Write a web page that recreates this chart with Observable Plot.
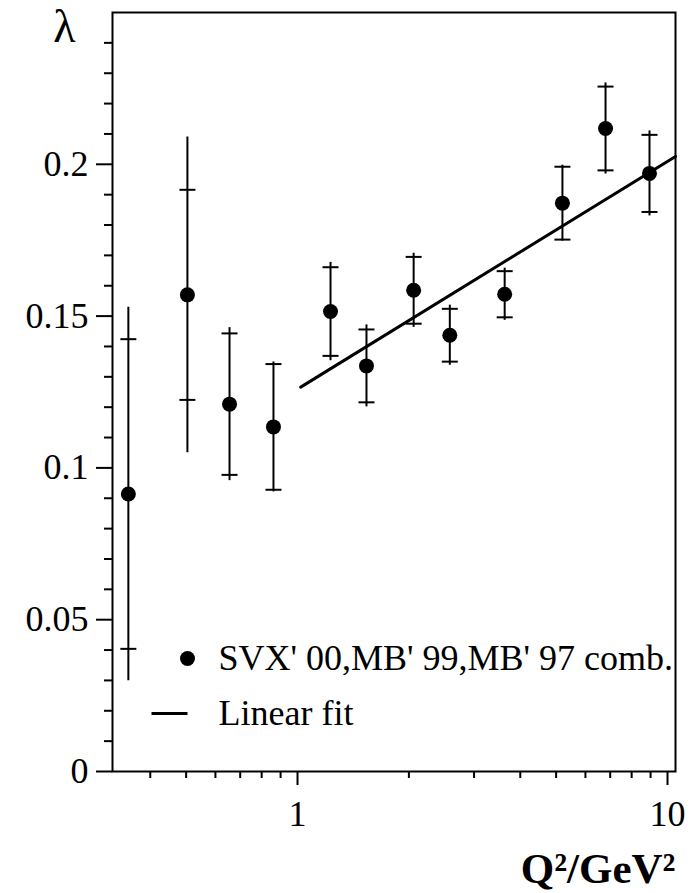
<!DOCTYPE html>
<html>
<head>
<meta charset="utf-8">
<script src="https://cdn.jsdelivr.net/npm/d3@7"></script>
<script src="https://cdn.jsdelivr.net/npm/@observablehq/plot@0.6"></script>
<style>
  html, body { margin: 0; padding: 0; background: white; }
  svg { display: block; }
</style>
</head>
<body>
<div id="chart"></div>
<script>
// ---- data ----
const q2      = [0.349, 0.504, 0.655, 0.861, 1.228, 1.536, 2.06, 2.58, 3.63, 5.2, 6.8, 8.94];
const lambda  = [0.0914, 0.157, 0.121, 0.1135, 0.1515, 0.1336, 0.1585, 0.1437, 0.1572, 0.1872, 0.2118, 0.197];
const statErr = [0.051, 0.0346, 0.0233, 0.0207, 0.0146, 0.012, 0.011, 0.0087, 0.0076, 0.012, 0.0138, 0.0127];
const totErr  = [0.0615, 0.052, 0.0252, 0.0214, 0.0162, 0.0135, 0.0122, 0.0099, 0.0086, 0.0125, 0.015, 0.014];

const fitQ2     = [1.02, 10.51];
const fitLambda = [0.1266, 0.2026];

const xMajorTicks = [1, 10];
const xMinorTicks = [0.4, 0.5, 0.6, 0.7, 0.8, 0.9, 2, 3, 4, 5, 6, 7, 8, 9];
const yMajorTicks = [0, 0.05, 0.1, 0.15, 0.2];
const yMinorTicks = [0.01, 0.02, 0.03, 0.04, 0.06, 0.07, 0.08, 0.09, 0.11, 0.12, 0.13, 0.14,
                     0.16, 0.17, 0.18, 0.19, 0.21, 0.22, 0.23, 0.24];

const yLabel = "λ";
const xLabel = "Q²/GeV²";
const legendData = "SVX' 00,MB' 99,MB' 97 comb.";
const legendFit = "Linear fit";

// ---- tables ----
const points = q2.map((q, i) => ({q2: q, lambda: lambda[i], stat: statErr[i], tot: totErr[i]}));
const fit = fitQ2.map((q, i) => ({q2: q, lambda: fitLambda[i]}));

// horizontal line symbol (half-width = r)
const hline = {
  draw(context, size) {
    const w = Math.sqrt(size / Math.PI);
    context.moveTo(-w, 0);
    context.lineTo(w, 0);
  }
};

const FONT = "Liberation Serif, Times New Roman, serif";

const chart = Plot.plot({
  width: 700,
  height: 893,
  marginLeft: 112,
  marginRight: 25,
  marginTop: 12,
  marginBottom: 122,
  x: {type: "log", domain: [0.3162, 10.51]},
  y: {domain: [0, 0.25]},
  style: {fontFamily: FONT, fontSize: "36px", color: "black", background: "white"},
  marks: [
    // axes
    Plot.axisY(yMajorTicks, {tickSize: 16, tickPadding: 8, tickFormat: d => String(d), label: null,
      strokeWidth: 2, fontSize: 36, fontFamily: FONT}),
    Plot.axisY(yMinorTicks, {tickSize: 8, tickFormat: () => "", label: null, strokeWidth: 2}),
    Plot.axisX(xMajorTicks, {tickSize: 14, tickPadding: 15, tickFormat: d => String(d), label: null,
      strokeWidth: 2, fontSize: 36, fontFamily: FONT}),
    Plot.axisX(xMinorTicks, {tickSize: 7, tickFormat: () => "", label: null, strokeWidth: 2}),
    Plot.frame({stroke: "black", strokeWidth: 2}),

    // fit
    Plot.line(fit, {x: "q2", y: "lambda", stroke: "black", strokeWidth: 3}),

    // error bars
    Plot.ruleX(points, {x: "q2", y1: d => d.lambda - d.tot, y2: d => d.lambda + d.tot, stroke: "black", strokeWidth: 2}),
    Plot.dot(points, {x: "q2", y: d => d.lambda + d.stat, symbol: hline, r: 8, stroke: "black", strokeWidth: 2, fill: "none"}),
    Plot.dot(points, {x: "q2", y: d => d.lambda - d.stat, symbol: hline, r: 8, stroke: "black", strokeWidth: 2, fill: "none"}),
    Plot.dot(points, {x: "q2", y: "lambda", r: 7.5, fill: "black", stroke: "none"}),

    // legend
    Plot.dot([legendData], {frameAnchor: "bottom-left", dx: 75, dy: -113, r: 7.5, fill: "black", stroke: "none"}),
    Plot.text([legendData], {frameAnchor: "bottom-left", dx: 106, dy: -113, text: d => d, textAnchor: "start",
      lineAnchor: "middle", fontSize: 36, fontFamily: FONT, fill: "black"}),
    Plot.dot([legendFit], {frameAnchor: "bottom-left", dx: 57, dy: -58, symbol: hline, r: 18, stroke: "black", strokeWidth: 3, fill: "none"}),
    Plot.text([legendFit], {frameAnchor: "bottom-left", dx: 106, dy: -58, text: d => d, textAnchor: "start",
      lineAnchor: "middle", fontSize: 36, fontFamily: FONT, fill: "black"}),

    // axis labels
    Plot.text([yLabel], {frameAnchor: "top-left", dx: -48, dy: 15, text: d => d, textAnchor: "middle",
      lineAnchor: "middle", fontSize: 46, fontFamily: FONT, fill: "black"}),
    Plot.text([xLabel], {frameAnchor: "bottom-right", dx: 0, dy: 111, text: d => d, textAnchor: "end",
      lineAnchor: "bottom", fontSize: 43, fontWeight: "bold", fontFamily: FONT, fill: "black"})
  ]
});

document.getElementById("chart").appendChild(chart);
</script>
</body>
</html>
